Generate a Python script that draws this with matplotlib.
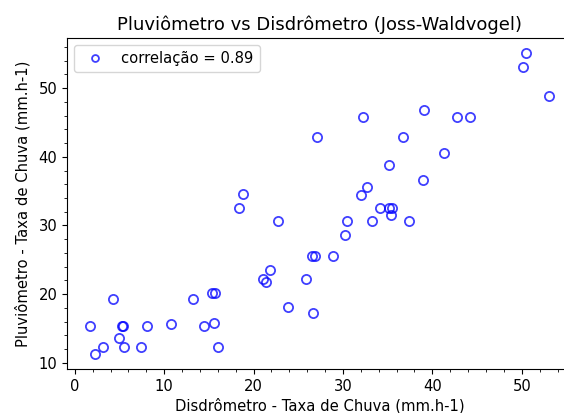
import matplotlib
matplotlib.use('Agg')
import matplotlib.pyplot as plt

# Disdrometro (x) vs Pluviometro (y), taxa de chuva em mm.h-1
disdrometro = [1.7, 2.3, 3.2, 4.3, 5.0, 5.3, 5.45, 5.5, 7.4, 8.1,
               10.8, 13.2, 14.45, 15.3, 15.65, 15.55, 16.05, 18.35, 18.8, 21.0,
               21.4, 21.8, 22.7, 23.8, 25.9, 26.6, 26.5, 26.9, 27.05, 28.9,
               30.25, 30.4, 32.0, 32.25, 32.7, 33.3, 34.15, 35.15, 35.2, 35.45,
               35.4, 36.75, 37.4, 38.95, 39.1, 41.35, 42.8, 44.2, 50.15, 50.45,
               53.05]
pluviometro = [15.3, 11.3, 12.3, 19.3, 13.6, 15.3, 15.3, 12.3, 12.3, 15.3,
               15.6, 19.3, 15.3, 20.2, 20.2, 15.8, 12.3, 32.6, 34.6, 22.2,
               21.8, 23.5, 30.6, 18.2, 22.2, 17.3, 25.5, 25.5, 42.9, 25.5,
               28.6, 30.6, 34.4, 45.8, 35.6, 30.6, 32.6, 38.8, 32.6, 32.6,
               31.5, 42.9, 30.6, 36.6, 46.8, 40.6, 45.8, 45.8, 53.1, 55.1,
               48.9]
correlacao = 0.89

fig = plt.figure(figsize=(5.64, 4.13), dpi=100)
# the original export was cropped on the right, so the axes run past the edge
ax = fig.add_axes([67 / 564, 44 / 413, 505 / 564, 331 / 413])

ax.plot(disdrometro, pluviometro, 'o', mfc='none', color='b', alpha=0.75,
        ms=6.6, mew=1.3, label='correlação = %.2f' % correlacao)
ax.minorticks_on()
ax.tick_params(labelsize=10.6)
ax.set_title('Pluviômetro vs Disdrômetro (Joss-Waldvogel)', fontsize=13)
ax.set_xlabel('Disdrômetro - Taxa de Chuva (mm.h-1)', fontsize=10.6, labelpad=3)
ax.set_ylabel('Pluviômetro - Taxa de Chuva (mm.h-1)', fontsize=10.6, labelpad=6)
ax.legend(loc='upper left', numpoints=1, markerscale=0.75, fontsize=10.6)

fig.savefig('out.png', dpi=100)
